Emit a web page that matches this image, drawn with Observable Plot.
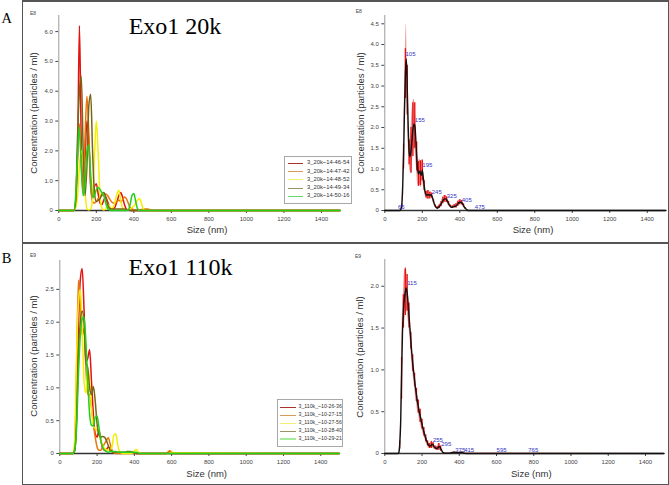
<!DOCTYPE html>
<html><head><meta charset="utf-8">
<script src="https://cdn.jsdelivr.net/npm/d3@7"></script>
<script src="https://cdn.jsdelivr.net/npm/@observablehq/plot@0.6"></script>
<style>
body{margin:0;background:#fff;}
#fig{position:relative;width:669px;height:485px;overflow:hidden;background:#fff;font-family:"Liberation Sans",Arial,sans-serif;color:#222;}
.t{position:absolute;line-height:1;white-space:nowrap;transform:translate(-50%,-50%);}
.ln{position:absolute;background:#555;}
.leg{position:absolute;background:#fff;border:1px solid #a8a8a8;box-sizing:border-box;}
</style></head><body><div id="fig"></div>
<script>
// ---------- data ----------
const xTicks = [0,200,400,600,800,1000,1200,1400];
const yTicksA1 = [0,1,2,3,4,5,6];
const yTicksA2 = [0,0.5,1,1.5,2,2.5,3,3.5,4,4.5];
const yTicksB1 = [0,0.5,1,1.5,2,2.5];
const yTicksB2 = [0,0.5,1,1.5,2];

const namesA = ["3_20k~14-46-54","3_20k~14-47-42","3_20k~14-48-52","3_20k~14-49-34","3_20k~14-50-16"];
const namesB = ["3_110k_~10-26-36","3_110k_~10-27-15","3_110k_~10-27-56","3_110k_~10-28-40","3_110k_~10-29-21"];
const lineColors = ["#e3120f","#e8760c","#f4ee00","#7b6514","#22cf1e"];
const legendColors = ["#a83232","#d99a5a","#f2f070","#9c9264","#66d866"];

// size grid (nm) for the left panels
const gridA = [0,60,70,80,90,100,110,120,130,140,150,160,170,180,190,200,210,220,230,240,250,260,270,280,290,300,310,320,330,340,350,360,370,380,390,400,410,420,430,440,450,460,470,480,490,500,1500];
// concentrations, E8 particles/ml
const a1 = [0, 0,0,0,0.2,1.8,6.2,2.2,0.9,1.8,3.0, 2.3,0.8,0.4,0.8,0.9,0.55,0.25,0.2,0.35,0.45, 0.3,0.12,0.05,0.05,0.12,0.3,0.5,0.6,0.45,0.2, 0.05,0.02,0,0,0,0,0,0,0,0, 0,0,0,0,0, 0];
const a2 = [0, 0,0,0,0.3,2.0,2.9,1.5,0.6,2.5,3.83, 2.6,0.9,0.3,0.25,0.3,0.4,0.45,0.5,0.5,0.55, 0.5,0.4,0.3,0.25,0.25,0.3,0.35,0.3,0.35,0.45, 0.4,0.25,0.1,0.05,0.03,0.02,0.02,0.02,0.03,0.04, 0.05,0.05,0.04,0.02,0, 0];
const a3 = [0, 0,0,0,0.1,0.5,1.5,2.0,1.6,0.6,0.05, 0.02,0.05,0.4,1.8,3.0,1.9,0.5,0.08,0.02,0.05, 0.2,0.15,0.05,0.1,0.3,0.55,0.68,0.35,0.08,0.02, 0.02,0.03,0.05,0.1,0.15,0.25,0.35,0.4,0.25,0.05, 0,0,0,0,0, 0];
const a4 = [0, 0,0,0,0.3,2.5,4.0,4.5,2.0,0.5,1.5, 3.5,3.9,2.0,0.6,0.3,0.35,0.4,0.55,0.6,0.45, 0.2,0.08,0.05,0.05,0.05,0.05,0.05,0.05,0.05,0.05, 0.03,0.02,0.01,0,0,0,0,0,0,0, 0,0,0,0,0, 0];
const a5 = [0, 0,0,0,0.5,1.8,2.8,1.4,0.5,0.9,2.0, 2.2,1.2,0.45,0.5,0.7,0.77,0.7,0.6,0.5,0.25, 0.08,0.02,0,0,0,0,0,0,0,0, 0,0.02,0.2,0.5,0.57,0.3,0.05,0,0,0, 0,0,0,0,0, 0];

const gridB = [0,60,70,80,90,100,110,120,130,140,150,160,170,180,190,200,210,220,230,240,250,260,270,280,290,300,310,320,330,340,350,360,370,380,390,400,410,420,430,440,450,570,580,590,600,610,1500];
// concentrations, E9 particles/ml
const b1 = [0, 0,0,0.05,0.6,1.9,2.65,2.82,2.2,1.4,1.45, 1.58,1.1,0.6,0.3,0.25,0.35,0.2,0.08,0.05,0.06, 0.1,0.08,0.03,0.02,0.02,0.01,0.01,0.01,0.01,0.01, 0.01,0.02,0.02,0.01,0.01,0,0,0,0,0, 0,0.01,0.03,0.01,0, 0];
const b2 = [0, 0,0,0.1,1.3,2.64,2.3,1.8,1.9,1.3,0.9, 0.9,0.7,0.45,0.25,0.1,0.05,0.05,0.1,0.15,0.2, 0.24,0.15,0.05,0.01,0,0,0,0,0,0, 0,0,0,0,0,0,0,0,0,0, 0,0.02,0.04,0.02,0, 0];
const b3 = [0, 0,0,0.2,1.5,2.3,2.5,1.9,1.1,0.92,1.3, 1.1,0.7,0.42,0.38,0.35,0.3,0.2,0.12,0.08,0.06, 0.05,0.06,0.1,0.28,0.3,0.15,0.03,0.01,0,0, 0,0,0,0.01,0.04,0.06,0.03,0.01,0,0, 0,0,0.01,0.02,0.01, 0];
const b4 = [0, 0,0,0.05,0.5,1.5,2.0,2.17,2.0,1.4,1.3, 1.0,0.9,1.02,0.8,0.45,0.28,0.25,0.26,0.25,0.2, 0.12,0.05,0.03,0.02,0.02,0.02,0.02,0.02,0.02,0.02, 0.03,0.03,0.03,0.02,0.01,0,0,0,0,0, 0,0,0,0,0, 0];
const b5 = [0, 0,0,0.05,0.4,1.2,1.8,2.05,2.08,1.7,1.1, 0.6,0.43,0.42,0.55,0.57,0.4,0.2,0.1,0.05,0.03, 0.02,0.03,0.03,0.03,0.03,0.02,0.02,0.02,0.02,0.02, 0.02,0.02,0.02,0.02,0.02,0.02,0.01,0,0,0, 0,0,0,0,0, 0];

// averaged curves (right panels), 5 nm grid
const gridR = [0,
 60,65,70,75,80,85,90,95,100,105,
 110,115,120,125,130,135,140,145,150,155,
 160,165,170,175,180,185,190,195,200,205,
 210,215,220,225,230,235,240,245,250,255,
 260,265,270,275,280,285,290,295,300,305,
 310,315,320,325,330,335,340,345,350,355,
 360,365,370,375,380,385,390,395,400,405,
 410,415,420,425,430,435,440,445,450,
 1500];
const meanA = [0,
 0,0,0,0,0,0.02,0.1,0.5,1.3,2.4,
 3.3,3.65,2.9,2.0,1.4,1.3,1.45,1.7,1.95,2.08,
 2.05,1.75,1.3,1.0,0.88,0.95,0.9,0.85,0.97,0.8,
 0.6,0.45,0.38,0.37,0.38,0.38,0.36,0.38,0.36,0.3,
 0.22,0.15,0.1,0.07,0.06,0.07,0.09,0.12,0.15,0.2,
 0.24,0.27,0.28,0.28,0.26,0.22,0.17,0.13,0.1,0.08,
 0.08,0.09,0.1,0.1,0.11,0.13,0.16,0.19,0.2,0.2,
 0.19,0.16,0.12,0.08,0.05,0.03,0.01,0,0,
 0];
const errA = [0,
 0,0,0,0,0,0.01,0.05,0.2,0.3,0.4,
 0.6,0.85,0.6,0.4,0.3,0.35,0.55,0.7,0.65,0.6,
 0.55,0.5,0.35,0.35,0.3,0.3,0.3,0.3,0.25,0.2,
 0.12,0.08,0.08,0.1,0.1,0.1,0.08,0.07,0.06,0.05,
 0.04,0.03,0.03,0.03,0.03,0.03,0.04,0.05,0.06,0.07,
 0.08,0.08,0.08,0.08,0.07,0.06,0.05,0.04,0.03,0.03,
 0.03,0.04,0.04,0.04,0.05,0.05,0.06,0.06,0.06,0.06,
 0.05,0.05,0.04,0.03,0.02,0.01,0,0,0,
 0];
const meanB = [0,
 0,0,0,0.01,0.1,0.35,0.9,1.45,1.7,1.85,
 1.93,1.98,1.92,1.8,1.65,1.5,1.35,1.2,1.08,0.98,
 0.88,0.78,0.7,0.62,0.56,0.5,0.45,0.4,0.35,0.3,
 0.26,0.22,0.18,0.15,0.12,0.1,0.09,0.09,0.1,0.11,
 0.1,0.08,0.07,0.06,0.06,0.07,0.08,0.08,0.06,0.04,
 0.02,0.01,0.005,0.005,0.005,0.005,0.005,0.005,0.005,0.008,
 0.01,0.012,0.015,0.015,0.012,0.01,0.01,0.01,0.01,0.012,
 0.015,0.015,0.01,0.005,0.003,0,0,0,0,
 0];
const errB = [0,
 0,0,0,0,0.05,0.1,0.25,0.25,0.2,0.3,
 0.28,0.25,0.22,0.2,0.15,0.1,0.1,0.12,0.1,0.1,
 0.08,0.1,0.08,0.1,0.08,0.08,0.08,0.08,0.06,0.06,
 0.05,0.04,0.04,0.04,0.03,0.03,0.03,0.03,0.04,0.04,
 0.03,0.03,0.02,0.02,0.02,0.03,0.04,0.04,0.03,0.02,
 0.01,0.005,0.005,0.005,0.005,0.005,0.005,0.005,0.005,0.005,
 0.005,0.005,0.005,0.005,0.005,0.005,0.005,0.005,0.005,0.005,
 0.005,0.005,0.005,0.005,0.005,0.005,0.005,0.005,0.005,
 0];

// peak labels
const peakTextA = ["65","105","155","195","245","325","405","475"];
const peakXA = [65,105,155,195,245,325,405,475];
const peakYA = [0,3.7,2.11,1.03,0.38,0.28,0.17,0];
const peakTextB = ["115","255","295","375","415","595","765"];
const peakXB = [115,253,298,373,421,595,765];
const peakYB = [2.0,0.12,0.08,0.01,0.01,0,0];

// ---------- drawing ----------
const fig = document.getElementById("fig");
const fmt = d => d === 0 ? "0" : d.toFixed(1);

function series(grid, vals){ return grid.map((x,i)=>({x, y: vals[i]})); }
function band(grid, mean, err){ return grid.map((x,i)=>({x, y: mean[i], lo: mean[i]-err[i], hi: mean[i]+err[i]})); }
function labels(txt, xs, ys){ return txt.map((t,i)=>({t, x: xs[i], y: ys[i]})); }

function panel(o){
  const svg = Plot.plot({
    width: o.width, height: o.height,
    marginLeft: o.mL, marginRight: o.mR, marginTop: o.mT, marginBottom: o.mB,
    style: {background:"transparent", fontSize:"6px", fontFamily:"'Liberation Sans', Arial, sans-serif", color:"#444", overflow:"visible"},
    x: {domain:[0,1500], ticks: xTicks, tickSize:3, tickPadding:3, tickFormat: d=>String(d), label:null},
    y: {domain:[0,o.yMax], ticks: o.yTicks, tickSize:3, tickPadding:3, tickFormat: fmt, label:null},
    marks: [
      Plot.ruleX([0], {stroke:"#9a9a9a", strokeWidth:1}),
      Plot.ruleY([0], {stroke:"#333", strokeWidth:1.3}),
      ...o.marks
    ]
  });
  svg.style.position = "absolute";
  svg.style.left = o.left + "px";
  svg.style.top = o.top + "px";
  fig.appendChild(svg);
}

function curves(grid, arrs){
  return arrs.map((v,i)=>Plot.line(series(grid, v), {x:"x", y:"y", stroke: lineColors[i], strokeWidth:1.5, curve:"monotone-x"}));
}
function meanMarks(grid, mean, err, lab){
  const d = band(grid, mean, err);
  return [
    Plot.areaY(d, {x:"x", y1:"lo", y2:"hi", fill:"#e04848", fillOpacity:0.55, curve:"monotone-x"}),
    Plot.ruleX(d, {filter: r => r.x % 10 === 0 && r.hi - r.lo > 0.03, x:"x", y1:"lo", y2:"hi", stroke:"#e80c0c", strokeWidth:1.3}),
    Plot.line(d, {x:"x", y:"y", stroke:"#111", strokeWidth:1.4, curve:"monotone-x"}),
    Plot.text(lab, {x:"x", y:"y", text:"t", textAnchor:"start", dx:1, dy:-3, fill:"#3434c4", fontSize:6})
  ];
}

panel({left:0, top:0, width:345, height:240, mL:58.3, mR:5.3, mT:15, mB:30, yMax:6.54, yTicks:yTicksA1,
  marks: curves(gridA, [a1,a2,a3,a4,a5])});
panel({left:340, top:0, width:329, height:240, mL:44.3, mR:3.5, mT:15, mB:30, yMax:4.7, yTicks:yTicksA2,
  marks: meanMarks(gridR, meanA, errA, labels(peakTextA, peakXA, peakYA))});
panel({left:0, top:243, width:345, height:242, mL:59.3, mR:6.1, mT:17, mB:32, yMax:2.94, yTicks:yTicksB1,
  marks: curves(gridB, [b1,b2,b3,b4,b5])});
panel({left:340, top:243, width:329, height:242, mL:44.3, mR:5.4, mT:16, mB:32, yMax:2.32, yTicks:yTicksB2,
  marks: meanMarks(gridR, meanB, errB, labels(peakTextB, peakXB, peakYB))});

// ---------- text & frame ----------
function txt(s, x, y, size, extra){
  const d = document.createElement("div");
  d.className = "t";
  d.textContent = s;
  d.style.left = x + "px"; d.style.top = y + "px"; d.style.fontSize = size + "px";
  if (extra) Object.assign(d.style, extra);
  fig.appendChild(d);
}
const serif = {fontFamily:"'Liberation Serif','Times New Roman',serif", color:"#000"};
txt("A", 6.8, 18.3, 14.5, serif);
txt("B", 6.5, 258.3, 14.5, serif);
txt("Exo1 20k", 175, 26, 24, serif);
txt("Exo1 110k", 180.5, 266.5, 24, serif);
const ytitle = {transform:"translate(-50%,-50%) rotate(-90deg)", color:"#333"};
txt("Concentration (particles / ml)", 33.5, 112.5, 9.5, ytitle);
txt("Concentration (particles / ml)", 360.5, 112.5, 9.5, ytitle);
txt("Concentration (particles / ml)", 33.5, 355.5, 9.5, ytitle);
txt("Concentration (particles / ml)", 360, 357, 9.5, ytitle);
txt("Size (nm)", 207, 230, 9.5, {color:"#333"});
txt("Size (nm)", 533, 230, 9.5, {color:"#333"});
txt("Size (nm)", 206.7, 474, 9.5, {color:"#333"});
txt("Size (nm)", 531.3, 474, 9.5, {color:"#333"});
txt("E8", 33, 12.5, 5, {color:"#444"});
txt("E8", 358.8, 10.5, 5, {color:"#444"});
txt("E9", 33, 255.3, 5, {color:"#444"});
txt("E9", 358, 255.7, 5, {color:"#444"});

function legend(names, x, y, w, h, rowY, rowStep, swX1, swX2, txX, fs, lastThick){
  const box = document.createElement("div");
  box.className = "leg";
  Object.assign(box.style, {left:x+"px", top:y+"px", width:w+"px", height:h+"px"});
  fig.appendChild(box);
  names.forEach((n,i)=>{
    const cy = rowY + i*rowStep;
    const th = (lastThick && i === names.length-1) ? 2.5 : 1;
    const ln = document.createElement("div");
    Object.assign(ln.style, {position:"absolute", left:swX1+"px", top:(cy-th/2)+"px", width:(swX2-swX1)+"px", height:th+"px", background: lastThick && i===names.length-1 ? "#a8ec9c" : legendColors[i]});
    fig.appendChild(ln);
    const t = document.createElement("div");
    t.textContent = n;
    Object.assign(t.style, {position:"absolute", left:txX+"px", top:(cy - fs*0.55)+"px", fontSize:fs+"px", lineHeight:"1", whiteSpace:"nowrap", color:"#333"});
    fig.appendChild(t);
  });
}
legend(namesA, 284, 156, 68, 48, 163.5, 8.2, 288, 303, 307, 5.8, false);
legend(namesB, 277, 399, 66, 48, 407.2, 8.0, 279.5, 296, 298.5, 5.2, true);

// frame
function ln(l,t,w,h){ const d=document.createElement("div"); d.className="ln"; Object.assign(d.style,{left:l+"px",top:t+"px",width:w+"px",height:h+"px"}); fig.appendChild(d); }
ln(21.5, 0, 1.5, 485);
ln(667.5, 0, 1.5, 485);
ln(21.5, 0, 647.5, 1.5);
ln(21.5, 483.5, 647.5, 1.5);
ln(21.5, 242.3, 647.5, 1.5);
</script></body></html>
